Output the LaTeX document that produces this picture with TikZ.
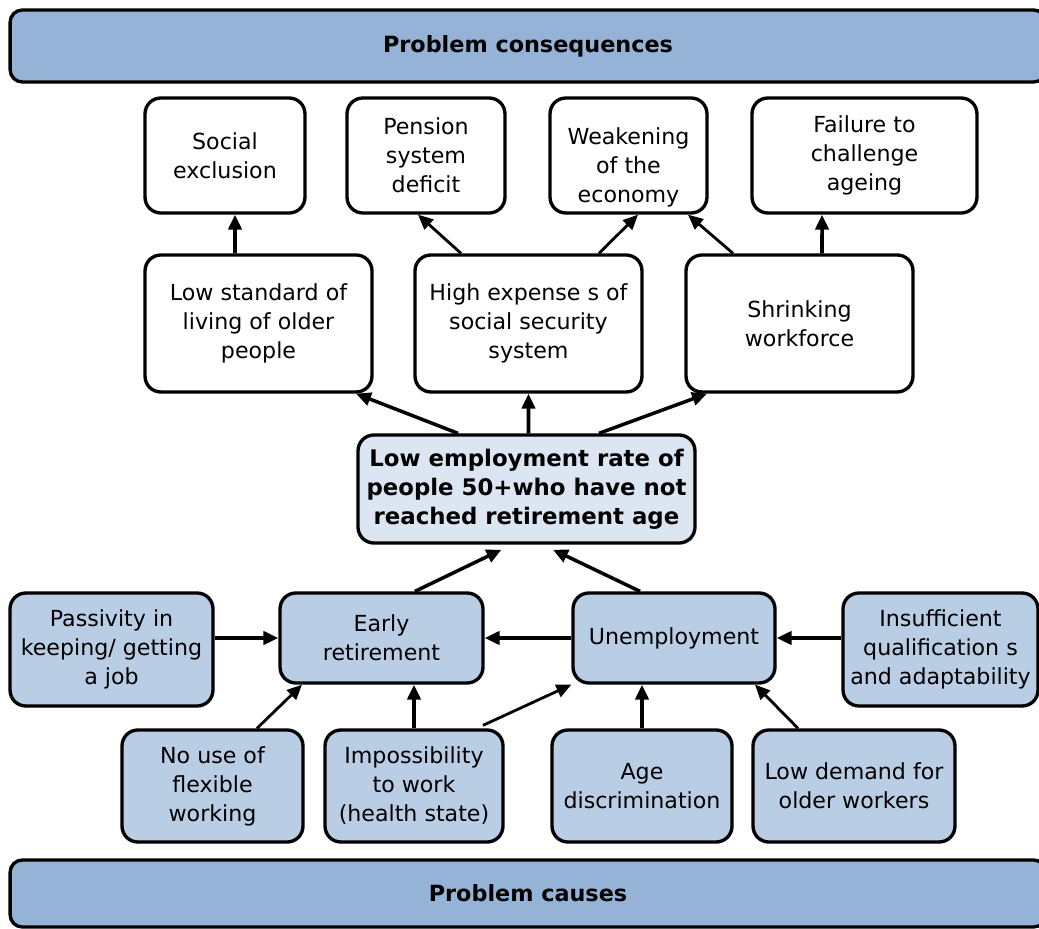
\documentclass[tikz,border=0pt]{standalone}
\usepackage{fontspec}
\setmainfont{DejaVu Sans}
\usetikzlibrary{arrows.meta}

\definecolor{barblue}{HTML}{95B3D7}
\definecolor{causeblue}{HTML}{B9CDE5}
\definecolor{coreblue}{HTML}{DCE6F2}

\begin{document}
\begin{tikzpicture}[x=0.02cm,y=-0.02cm,
		box/.style={draw=black,line width=1.9pt,rounded corners=9pt,align=center,inner sep=0pt,font=\fontsize{12.6}{16.5}\selectfont},
		effect/.style={box,fill=white},
		cause/.style={box,fill=causeblue},
		core/.style={box,fill=coreblue,font=\fontsize{13}{16.5}\selectfont\bfseries},
		bar/.style={box,fill=barblue,rounded corners=7pt,font=\fontsize{12.7}{15}\selectfont\bfseries},
		arr/.style={-{Triangle[length=8.5pt,width=7.5pt]},line width=2pt},
		thinarr/.style={-{Triangle[length=8.5pt,width=7.5pt]},line width=1.6pt}]
		\useasboundingbox (0,0) rectangle (1039,929);
		\clip (0,0) rectangle (1039,929);

		% Banners
		\node[bar,minimum width=20.72cm,minimum height=1.44cm] (top) at (528,46) {Problem consequences};
		\node[bar,minimum width=20.72cm,minimum height=1.34cm] (bottom) at (528,893.5) {Problem causes};

		% Consequences, upper row
		\node[effect,minimum width=3.2cm,minimum height=2.3cm] (social) at (225,155.5) {Social\\exclusion};
		\node[effect,minimum width=3.16cm,minimum height=2.3cm] (pension) at (426,155.5) {Pension\\system\\deficit};
		\node[effect,minimum width=3.14cm,minimum height=2.3cm] (weaken) at (628.5,155.5) {\rule{0pt}{23pt}Weakening\\of the\\economy};
		\node[effect,minimum width=4.5cm,minimum height=2.3cm] (failure) at (864.5,155.5) {Failure to\\challenge\\ageing};

		% Consequences, lower row
		\node[effect,minimum width=4.54cm,minimum height=2.74cm] (lowstd) at (258.5,323.5) {Low standard of\\living of older\\people};
		\node[effect,minimum width=4.54cm,minimum height=2.74cm] (highexp) at (528.5,323.5) {High expense s of\\social security\\system};
		\node[effect,minimum width=4.54cm,minimum height=2.74cm] (shrink) at (799.5,323.5) {Shrinking\\workforce};

		% Core problem
		\node[core,minimum width=6.74cm,minimum height=2.16cm] (lowemp) at (526.5,489) {Low employment rate of\\people 50+who have not\\reached retirement age};

		% Causes, upper row
		\node[cause,minimum width=4.06cm,minimum height=2.26cm] (passiv) at (111.5,649.5) {Passivity in\\keeping/ getting\\a job};
		\node[cause,minimum width=4.06cm,minimum height=1.8cm] (early) at (381.5,638) {Early\\retirement};
		\node[cause,minimum width=4.04cm,minimum height=1.8cm] (unemp) at (674,638) {Unemployment};
		\node[cause,minimum width=3.9cm,minimum height=2.26cm] (insuff) at (940.5,649.5) {Insufficient\\qualification s\\and adaptability};

		% Causes, lower row
		\node[cause,minimum width=3.62cm,minimum height=2.24cm] (nouse) at (212.5,786) {No use of\\flexible\\working};
		\node[cause,minimum width=3.56cm,minimum height=2.24cm] (imposs) at (414,786) {Impossibility\\to work\\(health state)};
		\node[cause,minimum width=3.6cm,minimum height=2.24cm] (agedisc) at (642,786) {Age\\discrimination};
		\node[cause,minimum width=4.04cm,minimum height=2.24cm] (lowdem) at (854,786) {Low demand for\\older workers};

		% Arrows to the upper consequences
		\draw[arr] ([xshift=-0.47cm]lowstd.north) -- ([xshift=0.2cm]social.south);
		\draw[thinarr] ([xshift=-1.35cm]highexp.north) -- ([xshift=-0.16cm]pension.south);
		\draw[thinarr] ([xshift=1.41cm]highexp.north) -- ([xshift=0.19cm]weaken.south);
		\draw[thinarr] ([xshift=-1.33cm]shrink.north) -- ([xshift=1.19cm]weaken.south);
		\draw[arr] ([xshift=0.45cm]shrink.north) -- ([xshift=-0.85cm]failure.south);

		% Arrows from the core problem
		\draw[arr] ([xshift=-1.37cm]lowemp.north) -- ([xshift=1.95cm]lowstd.south);
		\draw[arr] ([xshift=0.04cm]lowemp.north) -- (highexp.south);
		\draw[arr] ([xshift=1.45cm]lowemp.north) -- ([xshift=-1.85cm]shrink.south);

		% Arrows to the core problem
		\draw[arr] ([xshift=0.67cm]early.north) -- ([xshift=-0.5cm,yshift=-0.1cm]lowemp.south);
		\draw[arr] ([xshift=-0.68cm]unemp.north) -- ([xshift=0.53cm,yshift=-0.1cm]lowemp.south);

		% Arrows between the causes
		\draw[arr] (passiv.east |- early.west) -- (early.west);
		\draw[arr] (unemp.west) -- (early.east);
		\draw[arr] (insuff.west |- unemp.east) -- (unemp.east);
		\draw[thinarr] ([xshift=0.89cm]nouse.north) -- ([xshift=-1.59cm]early.south);
		\draw[arr] (imposs.north) -- (imposs.north |- early.south);
		\draw[thinarr] ([xshift=1.38cm,yshift=0.06cm]imposs.north) -- (unemp.south west);
		\draw[arr] (agedisc.north) -- (agedisc.north |- unemp.south);
		\draw[thinarr] ([xshift=-1.12cm]lowdem.north) -- ([xshift=1.62cm]unemp.south);

	\end{tikzpicture}
\end{document}
